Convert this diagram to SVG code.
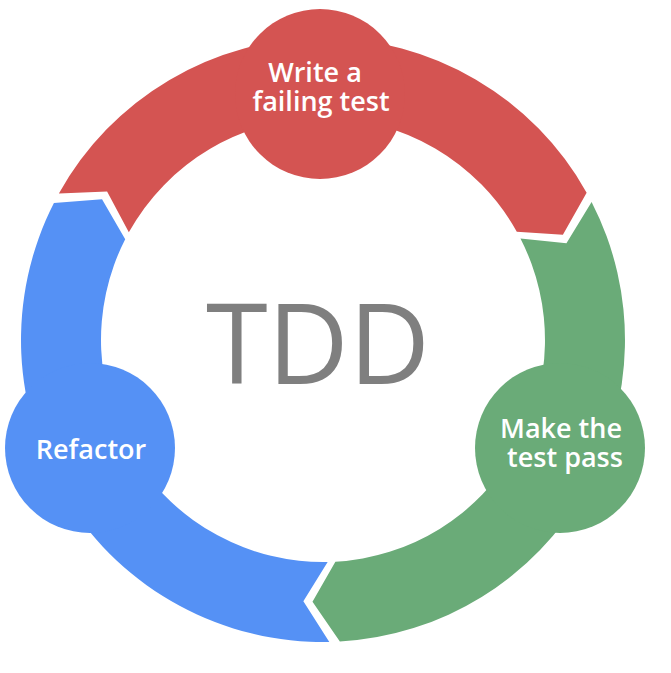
<svg xmlns="http://www.w3.org/2000/svg" width="671" height="673" viewBox="0 0 671 673">
  <style>
    .red { fill: #D45452; }
    .green { fill: #6AAB78; }
    .blue { fill: #5591F5; }
    .label { font-family: "Open Sans", "Noto Sans", "DejaVu Sans", sans-serif; font-weight: 600; font-size: 27px; fill: #FFFFFF; text-anchor: middle; }
    .title { font-family: "Open Sans", "Noto Sans", "DejaVu Sans", sans-serif; font-size: 112px; fill: #7F7F7F; text-anchor: middle; }
  </style>
  <rect width="671" height="673" fill="#FFFFFF"/>
  <g id="connectors">
    <path class="red" d="M 58.87 193.59 A 302 302 0 0 1 586.63 192.68 L 562.90 234.69 L 516.80 231.71 A 222 222 0 0 0 128.83 232.37 L 107.08 191.60 Z"/>
    <path class="green" d="M 591.60 201.97 A 302 302 0 0 1 339.86 641.53 L 312.49 601.79 L 335.39 561.65 A 222 222 0 0 0 520.45 238.54 L 566.43 243.13 Z"/>
    <path class="blue" d="M 329.32 641.93 A 302 302 0 0 1 53.92 202.90 L 102.03 199.23 L 125.20 239.21 A 222 222 0 0 0 327.65 561.95 L 303.36 601.26 Z"/>
  </g>
  <g id="node-write">
    <circle class="red" cx="320" cy="94" r="85"/>
    <text class="label" x="315" y="82">Write a</text>
    <text class="label" x="321" y="111">failing test</text>
  </g>
  <g id="node-pass">
    <circle class="green" cx="560" cy="448" r="85"/>
    <text class="label" x="561" y="438">Make the</text>
    <text class="label" x="565" y="467">test pass</text>
  </g>
  <g id="node-refactor">
    <circle class="blue" cx="90" cy="448" r="85"/>
    <text class="label" x="91" y="459">Refactor</text>
  </g>
  <g id="center">
    <text class="title" x="318" y="384">TDD</text>
  </g>
</svg>
